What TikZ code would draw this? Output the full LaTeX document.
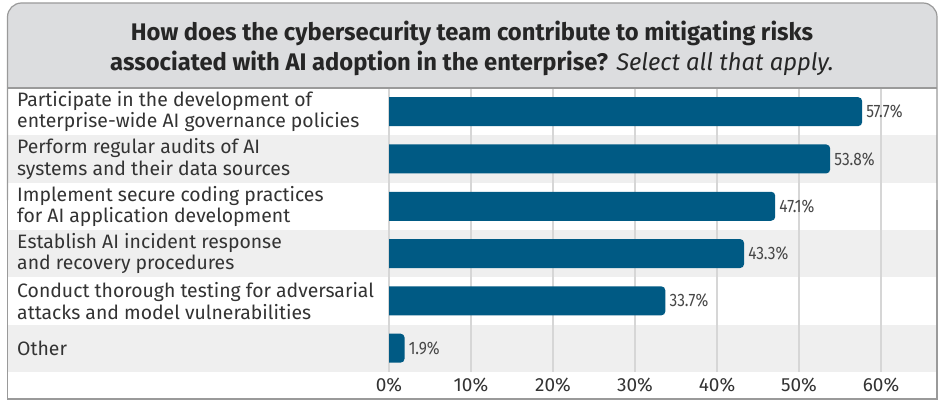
\documentclass[tikz,border=0pt]{standalone}
\usepackage{fontspec}
\usepackage{xcolor}
\setmainfont{Fira Sans}
\newfontfamily\headfont{Fira Sans}[FakeStretch=0.99]
\newfontfamily\valfont{Fira Sans}[FakeStretch=0.86]

\definecolor{barblue}{HTML}{005A84}
\definecolor{headgray}{HTML}{DCDDDF}
\definecolor{rowgray}{HTML}{EFEFEF}
\definecolor{gridgray}{HTML}{D6D6D6}
\definecolor{framegray}{HTML}{9A9A9A}
\definecolor{textgray}{HTML}{333333}

\tikzset{
	rowlabel/.style={anchor=west, align=left, text=textgray, inner sep=0,
		font=\fontsize{19.4}{21.5}\selectfont},
	vallabel/.style={anchor=west, text=textgray!90, inner sep=0,
		font=\valfont\fontsize{18}{20}\selectfont},
	ticklabel/.style={text=textgray, inner sep=0,
		font=\fontsize{19}{20}\selectfont},
	barfill/.style={fill=barblue}
}

\begin{document}
\begin{tikzpicture}[x=1pt, y=-1pt]
	\useasboundingbox (0,0) rectangle (944,401);
	% title band
	\fill[headgray, rounded corners=14] (7.5,3) rectangle (937,110);
	\node[align=center, text=black!85, font=\headfont\fontsize{24}{30}\selectfont] (title) at (472,48)
		{\textbf{How does the cybersecurity team contribute to mitigating risks}\\
		 \textbf{associated with AI adoption in the enterprise?} \textit{Select all that apply.}};
	% rows
	\fill[white] (7.5,88) rectangle (937,135.3);
	\fill[rowgray] (7.5,135.3) rectangle (937,182.6);
	\fill[white] (7.5,182.6) rectangle (937,229.9);
	\fill[rowgray] (7.5,229.9) rectangle (937,277.2);
	\fill[white] (7.5,277.2) rectangle (937,324.5);
	\fill[rowgray] (7.5,324.5) rectangle (937,371.8);
	\fill[white] (7.5,371.8) rectangle (937,399);
	% grid
	\foreach \k in {0,...,6}
		\draw[gridgray, line width=1.3] (389+82*\k,88) -- (389+82*\k,371.8);
	% bars
	\foreach \v [count=\i] in {57.7,53.8,47.1,43.3,33.7,1.9} {
		\pgfmathsetmacro{\yc}{88+47.3*(\i-0.5)}
		\pgfmathsetmacro{\xe}{389+8.2*\v}
		\fill[barfill] (389,\yc-14.5) [rounded corners=4] -- (\xe,\yc-14.5) -- (\xe,\yc+14.5) [sharp corners] -- (389,\yc+14.5) -- cycle;
		\node[vallabel] (v\i) at (\xe+4,\yc) {\v\%};
	}
	% labels
	\node[rowlabel] (l1) at (17,111.7) {Participate in the development of\\enterprise-wide AI governance policies};
	\node[rowlabel] (l2) at (17,159) {Perform regular audits of AI\\systems and their data sources};
	\node[rowlabel] (l3) at (17,206.3) {Implement secure coding practices\\for AI application development};
	\node[rowlabel] (l4) at (17,253.6) {Establish AI incident response\\and recovery procedures};
	\node[rowlabel] (l5) at (17,300.9) {Conduct thorough testing for adversarial\\attacks and model vulnerabilities};
	\node[rowlabel] (l6) at (17,348.2) {Other};
	% axis
	\foreach \k in {0,...,6}
		\node[ticklabel] (t\k) at (389+82*\k,385) {\the\numexpr\k*10\relax\%};
	% frame
	\draw[framegray, line width=1.2] (7.5,88) -- (937,88);
	\draw[framegray, line width=1.2, rounded corners=14] (7.5,200) -- (7.5,3) -- (937,3) -- (937,200);
	\draw[framegray, line width=1.2] (7.5,200) -- (7.5,399) -- (937,399) -- (937,200);
\end{tikzpicture}
\end{document}
